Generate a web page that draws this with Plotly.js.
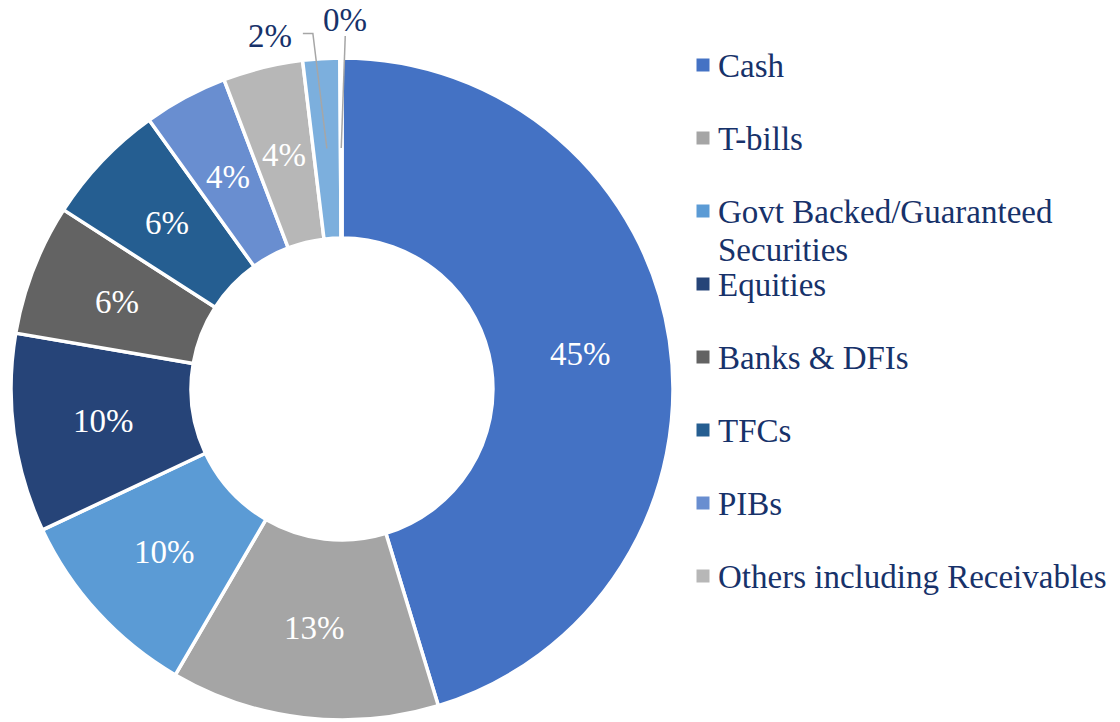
<!DOCTYPE html>
<html>
<head>
<meta charset="utf-8">
<script src="https://cdn.plot.ly/plotly-3.0.1.min.js"></script>
<style>
  html, body { margin: 0; padding: 0; background: #ffffff; }
  #chart { width: 1120px; height: 722px; }
</style>
</head>
<body>
<div id="chart"></div>
<script>
// ---- data ----
const categories = [
  'Cash', 'T-bills', 'Govt Backed/Guaranteed Securities', 'Equities',
  'Banks & DFIs', 'TFCs', 'PIBs', 'Others including Receivables',
  'Unlabelled A', 'Unlabelled B'
];
const shares = [45.3, 13.1, 9.6, 9.7, 6.4, 6.0, 4.1, 3.9, 1.8, 0.1];
const sliceColors = [
  '#4472C4', '#A5A5A5', '#5B9BD5', '#264478', '#636363',
  '#255E91', '#698ED0', '#B7B7B7', '#7CAFDD', '#335AA1'
];
// legend shows only the first eight categories (as in the source)
const legendLines = [
  ['Cash'], ['T-bills'], ['Govt Backed/Guaranteed', 'Securities'], ['Equities'],
  ['Banks & DFIs'], ['TFCs'], ['PIBs'], ['Others including Receivables']
];
// slices whose labels sit outside with a leader line
const outsideIdx = [8, 9];

// ---- layout constants ----
const W = 1120, H = 722;
const textColor = '#17326A';
const fontFam = '"Liberation Serif", "Times New Roman", serif';
const fs = 33;
const dom = { x: [11 / W, 673 / W], y: [1 - 720 / H, 1 - 58 / H] };
const hole = 0.456;
// pixel offsets (from the slice's mid-ring point) of outside label centres and leader bends
const outsideOffsets = { 8: [-57, -113], 9: [4, -128] };
const leaderBends = { 8: [[-14, -115], [-24, -115]], 9: [[4, -112]] };

const total = shares.reduce((a, b) => a + b, 0);

const trace = {
  type: 'pie',
  labels: categories,
  values: shares,
  sort: false,
  direction: 'clockwise',
  rotation: 0,
  hole: hole,
  domain: dom,
  marker: { colors: sliceColors, line: { color: '#ffffff', width: 3.5 } },
  textinfo: 'none',
  showlegend: false,
  hoverinfo: 'label+percent'
};

// geometry of the pie in pixels (margins are zero)
const cxPx = (dom.x[0] + dom.x[1]) / 2 * W;
const cyPx = (1 - (dom.y[0] + dom.y[1]) / 2) * H;
const Rpx = Math.min((dom.x[1] - dom.x[0]) * W, (dom.y[1] - dom.y[0]) * H) / 2;
const rMid = Rpx * (1 + hole) / 2;
const toPaper = (px, py) => [px / W, 1 - py / H];

const annotations = [];
const shapes = [];

// percentage labels: inside at mid-ring, or outside with a leader line
let cum = 0;
shares.forEach((v, i) => {
  const start = cum;
  cum += v;
  const mid = (start + v / 2) / total * 2 * Math.PI;
  const px = cxPx + rMid * Math.sin(mid);
  const py = cyPx - rMid * Math.cos(mid);
  const label = Math.round(v / total * 100) + '%';
  if (!outsideIdx.includes(i)) {
    const p = toPaper(px, py);
    annotations.push({
      x: p[0], y: p[1], xref: 'paper', yref: 'paper',
      xanchor: 'center', yanchor: 'middle', showarrow: false,
      text: label, font: { family: fontFam, size: fs, color: '#ffffff' }
    });
    return;
  }
  const o = outsideOffsets[i];
  const lp = toPaper(px + o[0], py + o[1]);
  annotations.push({
    x: lp[0], y: lp[1], xref: 'paper', yref: 'paper',
    xanchor: 'center', yanchor: 'middle', showarrow: false,
    text: label, font: { family: fontFam, size: fs, color: textColor }
  });
  const pts = [[px, py]].concat(leaderBends[i].map(b => [px + b[0], py + b[1]]));
  const path = pts.map((q, k) => {
    const pp = toPaper(q[0], q[1]);
    return (k === 0 ? 'M' : 'L') + pp[0].toFixed(5) + ',' + pp[1].toFixed(5);
  }).join(' ');
  shapes.push({
    type: 'path', xref: 'paper', yref: 'paper', path: path,
    line: { color: '#A6A6A6', width: 1.5 }
  });
});

// legend (first eight categories)
const legX = 716, sqX = 703, sq = 13, legY0 = 66, legStep = 73, lineStep = 38;
legendLines.forEach((lines, i) => {
  const yc = legY0 + i * legStep;
  shapes.push({
    type: 'rect', xref: 'paper', yref: 'paper',
    x0: (sqX - sq / 2) / W, x1: (sqX + sq / 2) / W,
    y0: 1 - (yc + sq / 2 - 1) / H, y1: 1 - (yc - sq / 2 - 1) / H,
    fillcolor: sliceColors[i], line: { width: 0 }
  });
  lines.forEach((t, k) => {
    annotations.push({
      x: legX / W, y: 1 - (yc + k * lineStep) / H, xref: 'paper', yref: 'paper',
      xanchor: 'left', yanchor: 'middle', showarrow: false,
      text: t, font: { family: fontFam, size: fs, color: textColor }
    });
  });
});

const layout = {
  width: W, height: H,
  margin: { l: 0, r: 0, t: 0, b: 0 },
  paper_bgcolor: '#ffffff', plot_bgcolor: '#ffffff',
  showlegend: false,
  annotations: annotations,
  shapes: shapes,
  font: { family: fontFam, color: textColor }
};

Plotly.newPlot('chart', [trace], layout, { displayModeBar: false, staticPlot: true });
</script>
</body>
</html>
